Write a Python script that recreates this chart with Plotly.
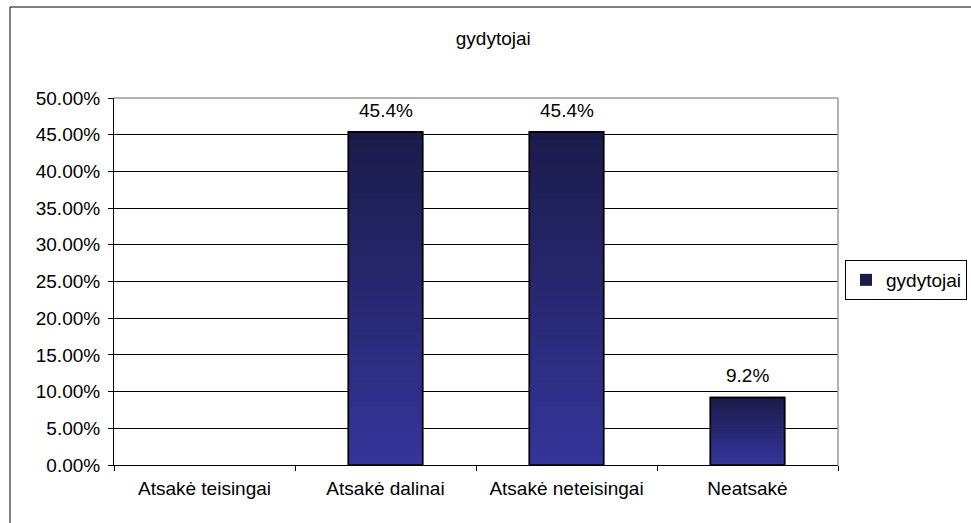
import plotly.graph_objects as go

categories = ["Atsakė teisingai", "Atsakė dalinai", "Atsakė neteisingai", "Neatsakė"]
values = [0.0, 0.454, 0.454, 0.092]
labels = ["", "45.4%", "45.4%", "9.2%"]
series_name = "gydytojai"
y_ticks = [i * 0.05 for i in range(11)]

FONT = "Liberation Sans, Arial, sans-serif"
FS = 19
top_rgb = (27, 27, 74)
bot_rgb = (53, 53, 155)
N = 40
outline_w = [0 if v == 0 else 1.5 for v in values]

fig = go.Figure()

# gradient via overlaid bars: full bar first, progressively shorter (lighter) bars on top
for k in range(N):
    f = 1 - k / N
    t = (k + 0.5) / N
    c = tuple(round(top_rgb[i] + (bot_rgb[i] - top_rgb[i]) * t) for i in range(3))
    fig.add_trace(go.Bar(
        x=categories, y=[v * f for v in values],
        name=series_name,
        marker=dict(color="rgb(%d,%d,%d)" % c,
                    line=dict(color="black", width=outline_w if k == 0 else 0)),
        width=0.41, showlegend=(k == 0), hoverinfo="skip",
    ))
# outline on top
fig.add_trace(go.Bar(
    x=categories, y=values, name=series_name,
    marker=dict(color="rgba(0,0,0,0)", line=dict(color="black", width=outline_w)),
    width=0.41, showlegend=False,
))

for c, v, lab in zip(categories, values, labels):
    if lab:
        fig.add_annotation(x=c, y=v, text=lab, showarrow=False, yanchor="bottom",
                           yshift=9, font=dict(family=FONT, size=FS, color="black"))

fig.update_layout(
    width=971, height=523,
    margin=dict(l=114, r=133, t=98, b=58, autoexpand=False),
    paper_bgcolor="white", plot_bgcolor="white",
    barmode="overlay", bargap=0.59,
    font=dict(family=FONT, size=FS, color="black"),
    title=dict(text=series_name, x=0.508, xanchor="center", y=1 - 38 / 523,
               yanchor="middle", yref="container",
               font=dict(family=FONT, size=FS, color="black")),
    legend=dict(x=(845 - 114) / 724, y=(465 - 260) / 367, xanchor="left", yanchor="top",
                bordercolor="black", borderwidth=1, bgcolor="white",
                font=dict(family=FONT, size=FS), itemwidth=30,
                tracegroupgap=0),
    xaxis=dict(showgrid=False, showline=True, linecolor="black", linewidth=1,
               ticks="outside", ticklen=5, tickcolor="black", tickson="boundaries",
               ticklabelstandoff=6,
               tickfont=dict(family=FONT, size=FS)),
    yaxis=dict(range=[0, 0.5], tickvals=y_ticks, tickformat=".2%",
               showgrid=True, gridcolor="black", gridwidth=1,
               showline=True, linecolor="black", linewidth=1,
               ticks="outside", ticklen=5, tickcolor="black", ticklabelstandoff=4,
               zeroline=False, tickfont=dict(family=FONT, size=FS)),
    shapes=[
        dict(type="line", xref="paper", yref="paper", x0=0, x1=1, y0=1, y1=1,
             line=dict(color="#9a9a9a", width=1.5)),
        dict(type="line", xref="paper", yref="paper", x0=1, x1=1, y0=0, y1=1,
             line=dict(color="#9a9a9a", width=1.5)),
        dict(type="line", xref="paper", yref="paper", x0=(10 - 114) / 724, x1=(10 - 114) / 724,
             y0=-1, y1=(465 - 7) / 367, line=dict(color="black", width=1)),
        dict(type="line", xref="paper", yref="paper", x0=(10 - 114) / 724, x1=3,
             y0=(465 - 7) / 367, y1=(465 - 7) / 367, line=dict(color="black", width=1)),
    ],
)

fig.write_html("out.html")
